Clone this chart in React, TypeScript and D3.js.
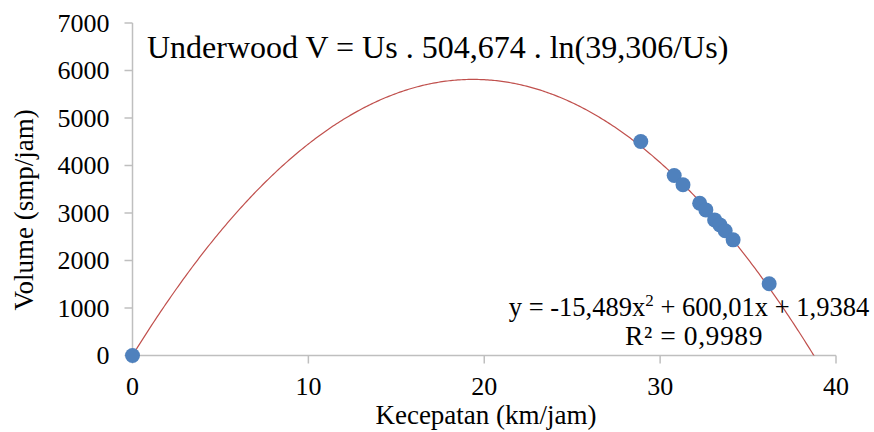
import React from "react";
import * as d3 from "d3";

const speeds = [0, 28.9, 30.8, 31.3, 32.25, 32.6, 33.1, 33.4, 33.7, 34.15, 36.2];
const volumes = [0, 4505, 3790, 3595, 3205, 3065, 2855, 2750, 2625, 2435, 1510];
const xTicks = [0, 10, 20, 30, 40];
const yTicks = [0, 1000, 2000, 3000, 4000, 5000, 6000, 7000];
// trendline coefficients as printed on the chart: y = a x^2 + b x + c
const trendCoef = [-15.489, 600.01, 1.9384];
const titleText = "Underwood V = Us . 504,674 . ln(39,306/Us)";
const r2Text = "R² = 0,9989";

const W = 874;
const H = 432;
const FONT = "Liberation Serif";

export default function App() {
  const x = d3.scaleLinear().domain([0, 40]).range([132.5, 836]);
  const y = d3.scaleLinear().domain([0, 7000]).range([355.5, 23]);

  const trendX = d3.range(0, 40.001, 0.1);
  const line = d3
    .line<number>()
    .x((d) => x(d))
    .y((d) => y(trendCoef[0] * d * d + trendCoef[1] * d + trendCoef[2]));

  const axisColor = "#BFBFBF";
  const ts = { fontFamily: FONT, fill: "#000" } as React.CSSProperties;
  return (
    <svg width={W} height={H} style={{ display: "block", position: "absolute", left: 0, top: 0 }}>
      <rect width={W} height={H} fill="#fff" />
      <defs>
        <clipPath id="plot">
          <rect x={x(0)} y={y(7000)} width={x(40) - x(0)} height={y(0) - y(7000)} />
        </clipPath>
      </defs>
      {/* axes */}
      <line x1={x(0)} x2={x(0)} y1={y(0)} y2={y(7000)} stroke={axisColor} strokeWidth={1.5} />
      <line x1={x(0)} x2={x(40)} y1={y(0)} y2={y(0)} stroke={axisColor} strokeWidth={1.5} />
      {yTicks.map((t) => (
        <g key={"y" + t}>
          <line x1={x(0) - 8} x2={x(0)} y1={y(t)} y2={y(t)} stroke={axisColor} strokeWidth={1.5} />
          <text x={x(0) - 23} y={y(t)} dy="0.34em" textAnchor="end" style={ts} fontSize={26}>
            {t}
          </text>
        </g>
      ))}
      {xTicks.map((t) => (
        <g key={"x" + t}>
          <line x1={x(t)} x2={x(t)} y1={y(0)} y2={y(0) + 8} stroke={axisColor} strokeWidth={1.5} />
          <text x={x(t)} y={395} textAnchor="middle" style={ts} fontSize={26}>
            {t}
          </text>
        </g>
      ))}
      <text x={486} y={424} textAnchor="middle" style={ts} fontSize={27}>
        Kecepatan (km/jam)
      </text>
      <text transform={`translate(33, 210) rotate(-90)`} textAnchor="middle" style={ts} fontSize={27}>
        Volume (smp/jam)
      </text>
      {/* trendline */}
      <path d={line(trendX) || ""} fill="none" stroke="#C0504D" strokeWidth={1.2} clipPath="url(#plot)" />
      {/* points */}
      {speeds.map((s, i) => (
        <circle key={i} cx={x(s)} cy={y(volumes[i])} r={7.5} fill="#4F81BD" />
      ))}
      <text x={147} y={58} style={ts} fontSize={32}>
        {titleText}
      </text>
      <text x={689} y={316} textAnchor="middle" style={ts} fontSize={26.5}>
        y = -15,489x<tspan dy={-10} fontSize={17}>2</tspan>
        <tspan dy={10}> + 600,01x + 1,9384</tspan>
      </text>
      <text x={694} y={345} textAnchor="middle" style={ts} fontSize={27.5} letterSpacing={0.6}>
        {r2Text}
      </text>
    </svg>
  );
}
